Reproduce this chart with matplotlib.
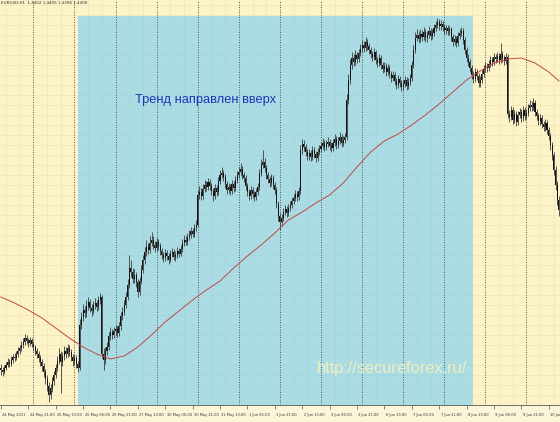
import matplotlib
matplotlib.use("Agg")
import matplotlib.pyplot as plt
from matplotlib.patches import Rectangle
import numpy as np

# ---------------- data (EURUSD H1, prices as pips above 1.3900) ----------------
BASE = 1.3900
PIP = 0.0001
first_open_pips = 84

close_pips = [
    80, 76, 84, 90, 96, 92, 100, 106, 104, 112,
    118, 124, 130, 136, 144, 138, 134, 140, 132, 126,
    118, 112, 104, 96, 88, 76, 62, 48, 30, 44,
    58, 70, 84, 98, 112, 96, 108, 118, 112, 124,
    116, 106, 98, 104, 92, 84, 170, 186, 200, 194,
    208, 216, 204, 198, 210, 214, 206, 220, 226, 112,
    100, 118, 126, 148, 156, 150, 158, 162, 154, 168,
    188, 196, 210, 226, 250, 284, 276, 262, 270, 256,
    236, 258, 280, 300, 316, 326, 320, 334, 340, 330,
    324, 336, 328, 318, 310, 304, 314, 308, 300, 312,
    316, 306, 310, 318, 312, 322, 334, 340, 336, 346,
    350, 358, 352, 364, 370, 430, 436, 428, 442, 450,
    446, 456, 448, 438, 428, 444, 436, 458, 470, 474,
    466, 452, 440, 446, 438, 452, 444, 460, 470, 476,
    482, 470, 464, 448, 436, 428, 440, 432, 426, 436,
    446, 474, 490, 496, 484, 470, 462, 454, 464, 450,
    440, 412, 388, 376, 384, 396, 402, 394, 404, 410,
    418, 424, 432, 426, 438, 520, 532, 526, 516, 508,
    514, 506, 520, 512, 504, 516, 522, 528, 534, 526,
    532, 536, 528, 524, 534, 542, 530, 538, 546, 534,
    540, 546, 620, 660, 690, 704, 696, 710, 702, 714,
    722, 730, 724, 736, 728, 720, 712, 706, 716, 700,
    694, 704, 690, 682, 688, 676, 684, 672, 664, 670,
    658, 650, 662, 654, 646, 652, 660, 648, 656, 664,
    690, 720, 744, 750, 742, 752, 746, 756, 744, 750,
    758, 748, 754, 764, 770, 776, 768, 772, 766, 760,
    764, 758, 762, 746, 736, 742, 734, 748, 754, 758,
    740, 720, 704, 696, 684, 670, 662, 676, 668, 654,
    660, 672, 682, 688, 684, 692, 700, 696, 706, 702,
    708, 700, 712, 704, 698, 706, 592, 586, 600, 580,
    592, 576, 590, 596, 584, 600, 588, 594, 604, 610,
    606, 614, 596, 588, 578, 584, 572, 566, 574, 560,
    548, 530, 510, 480, 450, 420, 400,
]

high_pips = [
    92, 86, 90, 96, 104, 102, 108, 112, 114, 118,
    126, 130, 138, 144, 152, 150, 144, 146, 144, 138,
    130, 124, 118, 110, 102, 94, 82, 70, 56, 52,
    66, 78, 92, 108, 124, 118, 116, 128, 126, 132,
    130, 122, 112, 112, 110, 98, 182, 196, 212, 208,
    220, 226, 222, 212, 218, 224, 220, 228, 234, 230,
    124, 126, 136, 156, 166, 162, 166, 170, 168, 176,
    196, 206, 220, 236, 262, 310, 300, 284, 282, 276,
    262, 266, 290, 310, 326, 340, 334, 348, 356, 348,
    338, 344, 342, 334, 324, 316, 322, 320, 314, 320,
    324, 322, 318, 326, 324, 330, 342, 350, 348, 354,
    360, 366, 364, 372, 380, 440, 448, 444, 452, 460,
    458, 464, 462, 454, 444, 452, 450, 466, 480, 486,
    480, 472, 458, 454, 452, 460, 458, 468, 478, 486,
    494, 488, 476, 470, 454, 442, 448, 446, 438, 444,
    454, 482, 502, 520, 504, 490, 476, 468, 472, 470,
    456, 446, 418, 394, 392, 404, 410, 408, 412, 418,
    426, 432, 440, 438, 446, 530, 542, 540, 532, 522,
    522, 520, 528, 526, 518, 524, 530, 536, 544, 540,
    540, 546, 542, 536, 542, 552, 548, 546, 556, 552,
    548, 554, 632, 672, 702, 716, 712, 720, 716, 722,
    732, 740, 738, 746, 742, 734, 726, 718, 724, 720,
    706, 712, 710, 696, 696, 694, 692, 690, 678, 678,
    676, 664, 670, 668, 660, 660, 668, 666, 664, 672,
    698, 730, 756, 762, 758, 762, 760, 766, 762, 758,
    768, 764, 762, 772, 778, 784, 782, 780, 778, 772,
    770, 770, 768, 766, 752, 750, 748, 756, 762, 766,
    764, 746, 726, 712, 702, 690, 678, 684, 682, 674,
    668, 680, 690, 696, 694, 700, 708, 706, 714, 712,
    716, 714, 734, 718, 710, 714, 712, 600, 608, 606,
    600, 598, 598, 604, 602, 608, 606, 602, 612, 620,
    618, 624, 620, 602, 594, 592, 590, 578, 582, 580,
    566, 554, 536, 516, 488, 458, 428,
]

low_pips = [
    70, 68, 72, 80, 86, 86, 88, 94, 98, 100,
    106, 112, 118, 124, 130, 132, 126, 128, 126, 118,
    110, 104, 96, 88, 78, 66, 52, 38, 16, 22,
    36, 50, 64, 78, 92, 34, 88, 100, 104, 106,
    108, 98, 88, 90, 84, 76, 80, 162, 178, 184,
    186, 200, 196, 188, 192, 202, 198, 200, 212, 104,
    80, 92, 110, 120, 140, 142, 144, 150, 146, 148,
    160, 180, 190, 204, 220, 244, 266, 254, 254, 246,
    226, 230, 252, 274, 292, 308, 312, 314, 328, 322,
    316, 318, 320, 310, 302, 296, 298, 300, 292, 296,
    306, 300, 298, 304, 306, 308, 316, 328, 330, 330,
    340, 344, 346, 346, 358, 366, 422, 420, 422, 436,
    438, 440, 440, 430, 418, 422, 428, 430, 452, 464,
    458, 444, 432, 434, 430, 432, 436, 438, 454, 464,
    470, 462, 456, 440, 428, 420, 422, 424, 418, 420,
    430, 440, 468, 484, 476, 462, 454, 446, 448, 442,
    432, 404, 378, 360, 368, 378, 390, 386, 388, 398,
    404, 412, 418, 418, 420, 432, 512, 518, 508, 500,
    500, 498, 500, 504, 496, 498, 510, 516, 522, 518,
    520, 526, 520, 516, 518, 528, 522, 524, 532, 526,
    528, 534, 540, 612, 652, 682, 688, 690, 694, 696,
    708, 716, 716, 718, 720, 712, 704, 698, 700, 692,
    686, 688, 682, 674, 676, 668, 670, 664, 656, 658,
    650, 642, 644, 646, 638, 640, 646, 640, 642, 650,
    658, 684, 714, 738, 734, 736, 738, 740, 736, 736,
    744, 740, 742, 748, 758, 764, 760, 760, 758, 752,
    752, 750, 750, 738, 728, 730, 726, 728, 742, 748,
    732, 712, 696, 688, 676, 662, 654, 656, 660, 646,
    646, 654, 666, 676, 676, 678, 686, 688, 690, 694,
    696, 692, 694, 696, 690, 692, 584, 576, 580, 572,
    574, 568, 570, 584, 576, 578, 580, 582, 588, 598,
    598, 600, 588, 580, 570, 570, 564, 558, 558, 552,
    540, 520, 500, 470, 440, 410, 388,
]

# moving average (red line), read every 8 bars
ma_bars = [0, 8, 16, 24, 32, 40, 48, 56, 64, 72, 80, 88, 96, 104, 112, 120,
           128, 136, 144, 152, 160, 168, 176, 184, 192, 200, 208, 216, 224,
           232, 240, 248, 256, 264, 272, 280, 288, 296, 304, 312, 320, 326]
ma_pips = [226, 214, 200, 184, 164, 144, 126, 112, 102, 108, 126, 150, 176,
           198, 220, 240, 258, 284, 308, 330, 354, 380, 396, 414, 430, 454,
           486, 516, 538, 552, 570, 590, 612, 636, 660, 678, 694, 702, 704,
           694, 676, 658]

tick_labels = ["24 May 2011", "24 May 21:00", "25 May 13:00", "26 May 05:00",
               "26 May 21:00", "27 May 13:00", "30 May 05:00", "30 May 21:00",
               "31 May 13:00", "1 Jun 05:00", "1 Jun 21:00", "2 Jun 13:00",
               "3 Jun 05:00", "3 Jun 21:00", "6 Jun 13:00", "7 Jun 05:00",
               "7 Jun 21:00", "8 Jun 13:00", "9 Jun 05:00", "9 Jun 21:00",
               "10 Jun 13:00"]
tick_step_bars = 16
day_start_bars = [19, 43, 67, 91, 115, 139, 163, 187, 211, 235, 259, 283, 307]
trend_start_bar = 45.1
trend_end_bar = 275.2
trend_top_pips = 788

title_text = "EURUSD,H1  1.4402 1.4405 1.4396 1.4400"
trend_text = "Тренд направлен вверх"
watermark = "http://secureforex.ru/"

# ---------------- derived ----------------
c = BASE + np.array(close_pips) * PIP
h = BASE + np.array(high_pips) * PIP
l = BASE + np.array(low_pips) * PIP
o = np.concatenate([[BASE + first_open_pips * PIP], c[:-1]])
x = np.arange(len(c))
ma_x = np.array(ma_bars)
ma_y = BASE + np.array(ma_pips) * PIP

W, H = 560, 422
fig = plt.figure(figsize=(W / 100, H / 100), dpi=100)
fig.patch.set_facecolor("#FBF6D8")
bottom_px = 17
ax = fig.add_axes([0, bottom_px / H, 1, 1 - bottom_px / H])
ax.set_facecolor("#FCF3C8")

XL = (-0.5, 326.6)
ylo, yhi = BASE + 10 * PIP, BASE + 820 * PIP
ax.set_xlim(*XL)
ax.set_ylim(ylo, yhi)

# fine background grid
for gx in np.arange(day_start_bars[0] - 16, 330, 8):
    ax.axvline(gx, color="#F1E6B6", lw=0.5, zorder=0)
for gy in np.arange(ylo, yhi, 20 * PIP):
    ax.axhline(gy, color="#F1E6B6", lw=0.5, zorder=0)

# highlighted trend zone
ztop = BASE + trend_top_pips * PIP
ax.add_patch(Rectangle((trend_start_bar, ylo - 1), trend_end_bar - trend_start_bar,
                       ztop - (ylo - 1), facecolor="#ABDCE4", edgecolor="none", zorder=1))
for gx in np.arange(day_start_bars[0] - 16, 330, 8):
    if trend_start_bar < gx < trend_end_bar:
        ax.plot([gx, gx], [ylo, ztop], color="#A3D5DD", lw=0.5, zorder=1.1)
for gy in np.arange(ylo, ztop, 20 * PIP):
    ax.plot([trend_start_bar, trend_end_bar], [gy, gy], color="#A3D5DD", lw=0.5, zorder=1.1)

# day separators
for d in day_start_bars:
    ax.axvline(d, color="#333333", lw=0.6, ls=(0, (1, 2)), zorder=2)

# candles
ax.vlines(x, l, h, color="#3c3c3c", lw=0.6, zorder=3)
body_lo = np.minimum(o, c)
body_h = np.maximum(np.abs(c - o), 0.4 * PIP)
ax.bar(x, body_h, bottom=body_lo, width=0.6, color="#151515", linewidth=0, zorder=3)

# moving average
ax.plot(ma_x, ma_y, color="#BF4A45", lw=0.7, zorder=4)

# texts
ax.text(135 / W, 1 - 100 / (H - bottom_px), trend_text, transform=ax.transAxes,
        fontsize=9.3, color="#2235B8", family="Liberation Sans", va="center", ha="left", zorder=6)
ax.text(317 / W, 1 - 368 / (H - bottom_px), watermark, transform=ax.transAxes,
        fontsize=11.8, color="#F0EEC0", family="Liberation Sans", va="center", ha="left", zorder=6)
ax.text(1 / W, 1 - 3 / (H - bottom_px), title_text, transform=ax.transAxes,
        fontsize=3.0, color="#333333", va="center", ha="left", zorder=6)

# axes / tick labels
for s in ["top", "right", "left"]:
    ax.spines[s].set_visible(False)
ax.spines["bottom"].set_color("#555555")
ax.spines["bottom"].set_linewidth(0.6)
ax.set_yticks([])
ticks = np.arange(len(tick_labels)) * tick_step_bars
ax.set_xticks(ticks)
ax.set_xticklabels([])
ax.tick_params(axis="x", direction="out", length=3, width=0.5, color="#555555")
for t, lab in zip(ticks, tick_labels):
    px = (t - XL[0]) / (XL[1] - XL[0]) * W
    fig.text((px + 1.5) / W, 7 / H, lab, fontsize=2.6, color="#333333", ha="left", va="center")

fig.savefig("out.png", dpi=100, facecolor=fig.get_facecolor())
